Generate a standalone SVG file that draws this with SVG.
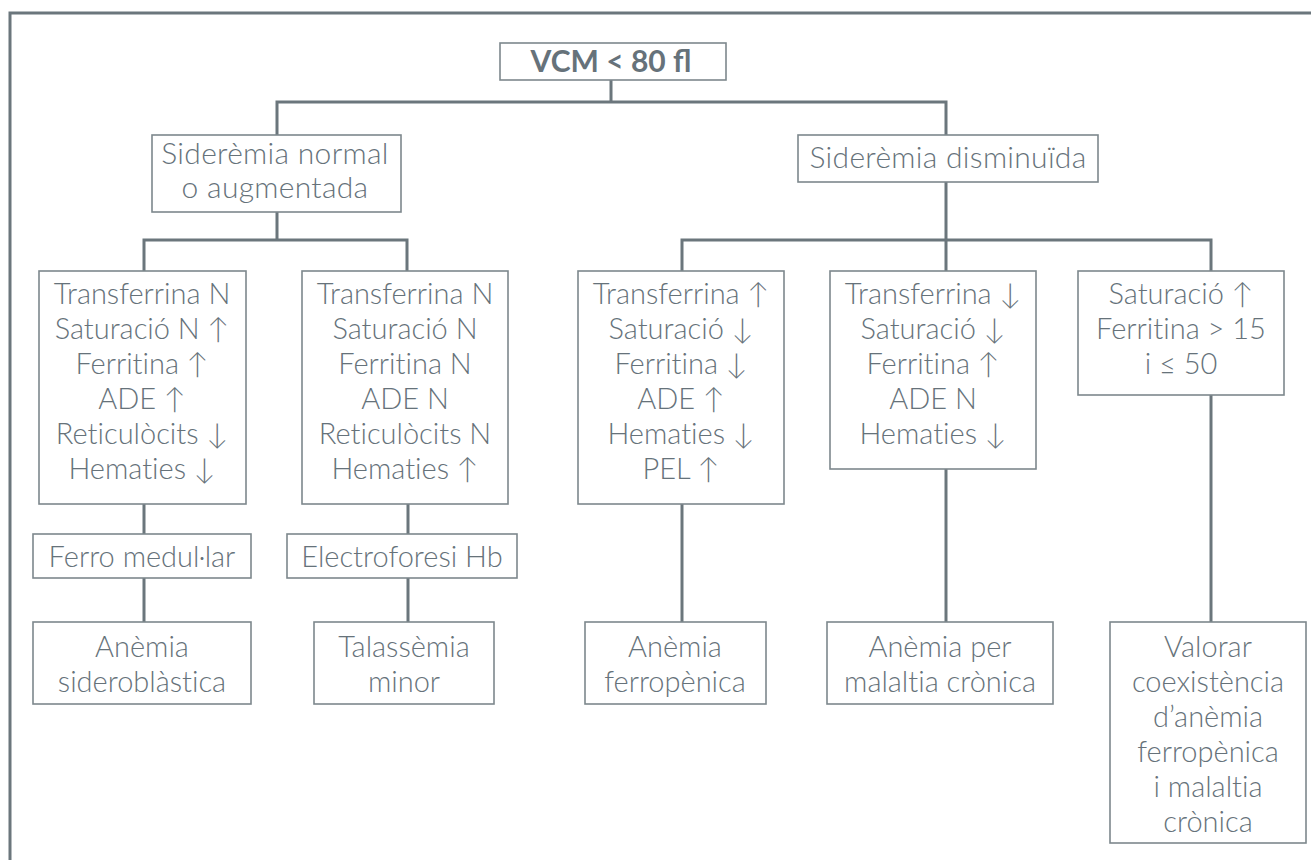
<svg xmlns="http://www.w3.org/2000/svg" width="1311" height="860" viewBox="0 0 1311 860">
<style>
.bx{fill:#fff;stroke:#7d888d;stroke-width:1.6}
.cn{fill:none;stroke:#6b767c;stroke-width:3}
.t{font-family:Lato,"Open Sans","Liberation Sans",sans-serif;font-weight:300;font-size:29px;fill:#66727a;text-anchor:middle;font-variant-ligatures:none}
.h{font-size:30px;letter-spacing:0.3px}
.b{font-family:Lato,"Liberation Sans",sans-serif;font-weight:700;font-size:30px;fill:#66727a;text-anchor:middle}
</style>
<rect width="1311" height="860" fill="#fff"/>
<path class="cn" d="M10 860V13H1311"/>
<g id="connectors" class="cn">
<path d="M611 80V102M277 135V102H946V135"/>
<path d="M277 212V240M144 271V240H407V271"/>
<path d="M946 182V240M682 271V240H1211V271M946 240V271"/>
<path d="M144 504V534M144 578V622"/>
<path d="M408 504V534M408 578V622"/>
<path d="M682 504V622"/>
<path d="M946 469V622"/>
<path d="M1211 395V622"/>
</g>
<g id="n-vcm"><rect class="bx" x="500" y="43" width="226" height="37"/><text class="b" x="611" y="72">VCM &lt; 80 fl</text></g>
<g id="n-sid-normal"><rect class="bx" x="152" y="135" width="249" height="77"/><text class="t h" x="275" y="164">Siderèmia normal</text><text class="t h" x="275" y="198">o augmentada</text></g>
<g id="n-sid-dism"><rect class="bx" x="798" y="135" width="300" height="47"/><text class="t h" x="948" y="168">Siderèmia disminuïda</text></g>
<g id="n-b1"><rect class="bx" x="39" y="271" width="207" height="233"/>
<text class="t" x="142" y="304">Transferrina N</text><text class="t" x="142" y="339">Saturació N ↑</text><text class="t" x="142" y="374">Ferritina ↑</text><text class="t" x="142" y="409">ADE ↑</text><text class="t" x="142" y="444">Reticulòcits ↓</text><text class="t" x="142" y="479">Hematies ↓</text></g>
<g id="n-b2"><rect class="bx" x="302" y="271" width="206" height="233"/>
<text class="t" x="405" y="304">Transferrina N</text><text class="t" x="405" y="339">Saturació N</text><text class="t" x="405" y="374">Ferritina N</text><text class="t" x="405" y="409">ADE N</text><text class="t" x="405" y="444">Reticulòcits N</text><text class="t" x="405" y="479">Hematies ↑</text></g>
<g id="n-b3"><rect class="bx" x="578" y="271" width="206" height="233"/>
<text class="t" x="681" y="304">Transferrina ↑</text><text class="t" x="681" y="339">Saturació ↓</text><text class="t" x="681" y="374">Ferritina ↓</text><text class="t" x="681" y="409">ADE ↑</text><text class="t" x="681" y="444">Hematies ↓</text><text class="t" x="681" y="479">PEL ↑</text></g>
<g id="n-b4"><rect class="bx" x="830" y="271" width="206" height="198"/>
<text class="t" x="933" y="304">Transferrina ↓</text><text class="t" x="933" y="339">Saturació ↓</text><text class="t" x="933" y="374">Ferritina ↑</text><text class="t" x="933" y="409">ADE N</text><text class="t" x="933" y="444">Hematies ↓</text></g>
<g id="n-b5"><rect class="bx" x="1078" y="271" width="206" height="124"/>
<text class="t" x="1181" y="304">Saturació ↑</text><text class="t" x="1181" y="339">Ferritina &gt; 15</text><text class="t" x="1181" y="374">i ≤ 50</text></g>
<g id="n-ferro"><rect class="bx" x="33" y="534" width="218" height="44"/><text class="t" x="142" y="567">Ferro medul·lar</text></g>
<g id="n-electro"><rect class="bx" x="287" y="534" width="230" height="44"/><text class="t" x="402" y="567">Electroforesi Hb</text></g>
<g id="n-sidero"><rect class="bx" x="33" y="622" width="218" height="82"/><text class="t" x="142" y="657">Anèmia</text><text class="t" x="142" y="692">sideroblàstica</text></g>
<g id="n-talass"><rect class="bx" x="314" y="622" width="180" height="82"/><text class="t" x="404" y="657">Talassèmia</text><text class="t" x="404" y="692">minor</text></g>
<g id="n-ferrop"><rect class="bx" x="585" y="622" width="181" height="82"/><text class="t" x="675" y="657">Anèmia</text><text class="t" x="675" y="692">ferropènica</text></g>
<g id="n-cronica"><rect class="bx" x="827" y="622" width="226" height="82"/><text class="t" x="940" y="657">Anèmia per</text><text class="t" x="940" y="692">malaltia crònica</text></g>
<g id="n-valorar"><rect class="bx" x="1110" y="622" width="196" height="221"/>
<text class="t" x="1208" y="657">Valorar</text><text class="t" x="1208" y="692">coexistència</text><text class="t" x="1208" y="727">d’anèmia</text><text class="t" x="1208" y="762">ferropènica</text><text class="t" x="1208" y="797">i malaltia</text><text class="t" x="1208" y="832">crònica</text></g>
</svg>
